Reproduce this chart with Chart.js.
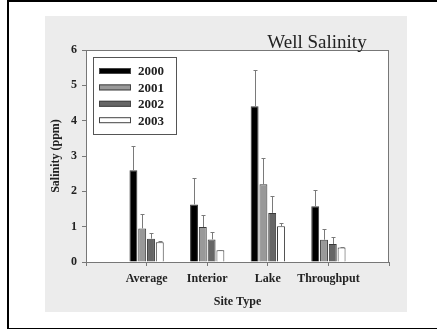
<!DOCTYPE html>
<html>
<head>
<meta charset="utf-8">
<script src="https://cdn.jsdelivr.net/npm/chart.js@4/dist/chart.umd.min.js"></script>
<style>
  body { margin: 0; background: #fff; }
  #frame { position: absolute; left: 7px; top: 0; width: 428px; height: 326px; border: 2px solid #000; }
  #panel { position: absolute; left: 45px; top: 16px; width: 362px; height: 296px; background: #ececec; }
</style>
</head>
<body>
<div id="frame"></div>
<div id="panel"><canvas id="myChart" width="362" height="296"></canvas></div>
<script>
// site types and yearly salinity means (ppm), plus upper error bars
var sites = ["Average", "Interior", "Lake", "Throughput"];
var years = ["2000", "2001", "2002", "2003"];
var s2000 = [2.6, 1.63, 4.41, 1.58];
var s2001 = [0.95, 0.99, 2.2, 0.63];
var s2002 = [0.66, 0.64, 1.39, 0.51];
var s2003 = [0.56, 0.33, 1.01, 0.41];
var e2000 = [0.69, 0.75, 1.02, 0.45];
var e2001 = [0.4, 0.33, 0.75, 0.29];
var e2002 = [0.17, 0.21, 0.47, 0.19];
var e2003 = [0.03, 0.02, 0.08, 0.01];
var yTicks = [0, 1, 2, 3, 4, 5, 6];

var barColors = ["#000000", "#999999", "#666666", "#ffffff"];
var serif = "'Liberation Serif', 'Times New Roman', serif";

// empty slot on each side of the four sites
var labels = [""].concat(sites, [""]);
function pad(arr) { return [null].concat(arr, [null]); }

var values = [s2000, s2001, s2002, s2003];
var errors = [e2000, e2001, e2002, e2003];

var datasets = [];
for (let i = 0; i < years.length; i++) {
    datasets.push({
        label: years[i],
        data: pad(values[i]),
        errUp: pad(errors[i]),
        backgroundColor: barColors[i],
        borderColor: "#3a3a3a",
        borderWidth: 1,
        borderSkipped: "bottom",
        categoryPercentage: 0.58,
        barPercentage: 0.9
    });
}

var extras = {
    id: "extras",
    beforeDatasetsDraw(chart) {
        let ctx = chart.ctx, a = chart.chartArea;
        ctx.save();
        ctx.fillStyle = "#fff";
        ctx.fillRect(a.left, a.top, a.right - a.left, a.bottom - a.top);
        ctx.restore();
    },
    afterDatasetsDraw(chart) {
        let ctx = chart.ctx, a = chart.chartArea, y = chart.scales.y;
        ctx.save();
        // error bars (upper only)
        ctx.strokeStyle = "#7a7a7a";
        ctx.lineWidth = 1;
        chart.data.datasets.forEach(function (ds, di) {
            let meta = chart.getDatasetMeta(di);
            meta.data.forEach(function (bar, j) {
                if (ds.data[j] == null) return;
                let x = Math.round(bar.x) + 0.5;
                let yTop = Math.round(y.getPixelForValue(ds.data[j] + ds.errUp[j])) + 0.5;
                ctx.beginPath();
                ctx.moveTo(x, bar.y);
                ctx.lineTo(x, yTop);
                ctx.moveTo(x - 2, yTop);
                ctx.lineTo(x + 2, yTop);
                ctx.stroke();
            });
        });
        // plot frame
        ctx.strokeStyle = "#777";
        ctx.strokeRect(a.left + 0.5, a.top + 0.5, a.right - a.left - 1, a.bottom - a.top);

        // legend box inside the plot
        let lx = a.left + 7, ly = a.top + 7;
        ctx.fillStyle = "#fff";
        ctx.fillRect(lx, ly, 83, 77);
        ctx.strokeStyle = "#555";
        ctx.strokeRect(lx + 0.5, ly + 0.5, 83, 77);
        ctx.font = "bold 13px " + serif;
        ctx.textBaseline = "middle";
        chart.data.datasets.forEach(function (ds, i) {
            let ry = ly + 14 + i * 16.4;
            ctx.fillStyle = ds.backgroundColor;
            ctx.fillRect(lx + 6, ry - 3, 32, 6);
            ctx.strokeStyle = "#444";
            ctx.strokeRect(lx + 6.5, ry - 2.5, 31, 5);
            ctx.fillStyle = "#222";
            ctx.fillText(ds.label, lx + 45, ry + 1);
        });

        // title
        ctx.font = "19px " + serif;
        ctx.fillStyle = "#222";
        ctx.textAlign = "center";
        ctx.textBaseline = "alphabetic";
        ctx.fillText("Well Salinity", a.left + 231, a.top - 2);
        ctx.restore();
    }
};

new Chart("myChart", {
    type: "bar",
    data: { labels: labels, datasets: datasets },
    plugins: [extras],
    options: {
        responsive: false,
        animation: false,
        layout: { padding: { top: 34, right: 18, left: 0, bottom: 0 } },
        plugins: { legend: { display: false }, tooltip: { enabled: false } },
        scales: {
            x: {
                offset: false,
                afterFit: function (s) { s.height = 50; },
                grid: { offset: false, drawOnChartArea: false, tickLength: 4, color: "#777" },
                border: { display: false },
                ticks: { padding: 6, color: "#222", font: { family: serif, size: 12, weight: "bold" }, maxRotation: 0, autoSkip: false },
                title: { display: true, text: "Site Type", color: "#222", padding: { bottom: 3 }, font: { family: serif, size: 12, weight: "bold" } }
            },
            y: {
                min: 0,
                max: 6,
                afterFit: function (s) { s.width = 41; },
                afterBuildTicks: function (s) { s.ticks = yTicks.map(v => ({ value: v })); },
                grid: { drawOnChartArea: false, tickLength: 4, color: "#777" },
                border: { display: false },
                ticks: { padding: 5, color: "#222", font: { family: serif, size: 12, weight: "bold" } },
                title: { display: true, text: "Salinity (ppm)", color: "#222", padding: { top: 4 }, font: { family: serif, size: 12, weight: "bold" } }
            }
        }
    }
});
</script>
</body>
</html>
